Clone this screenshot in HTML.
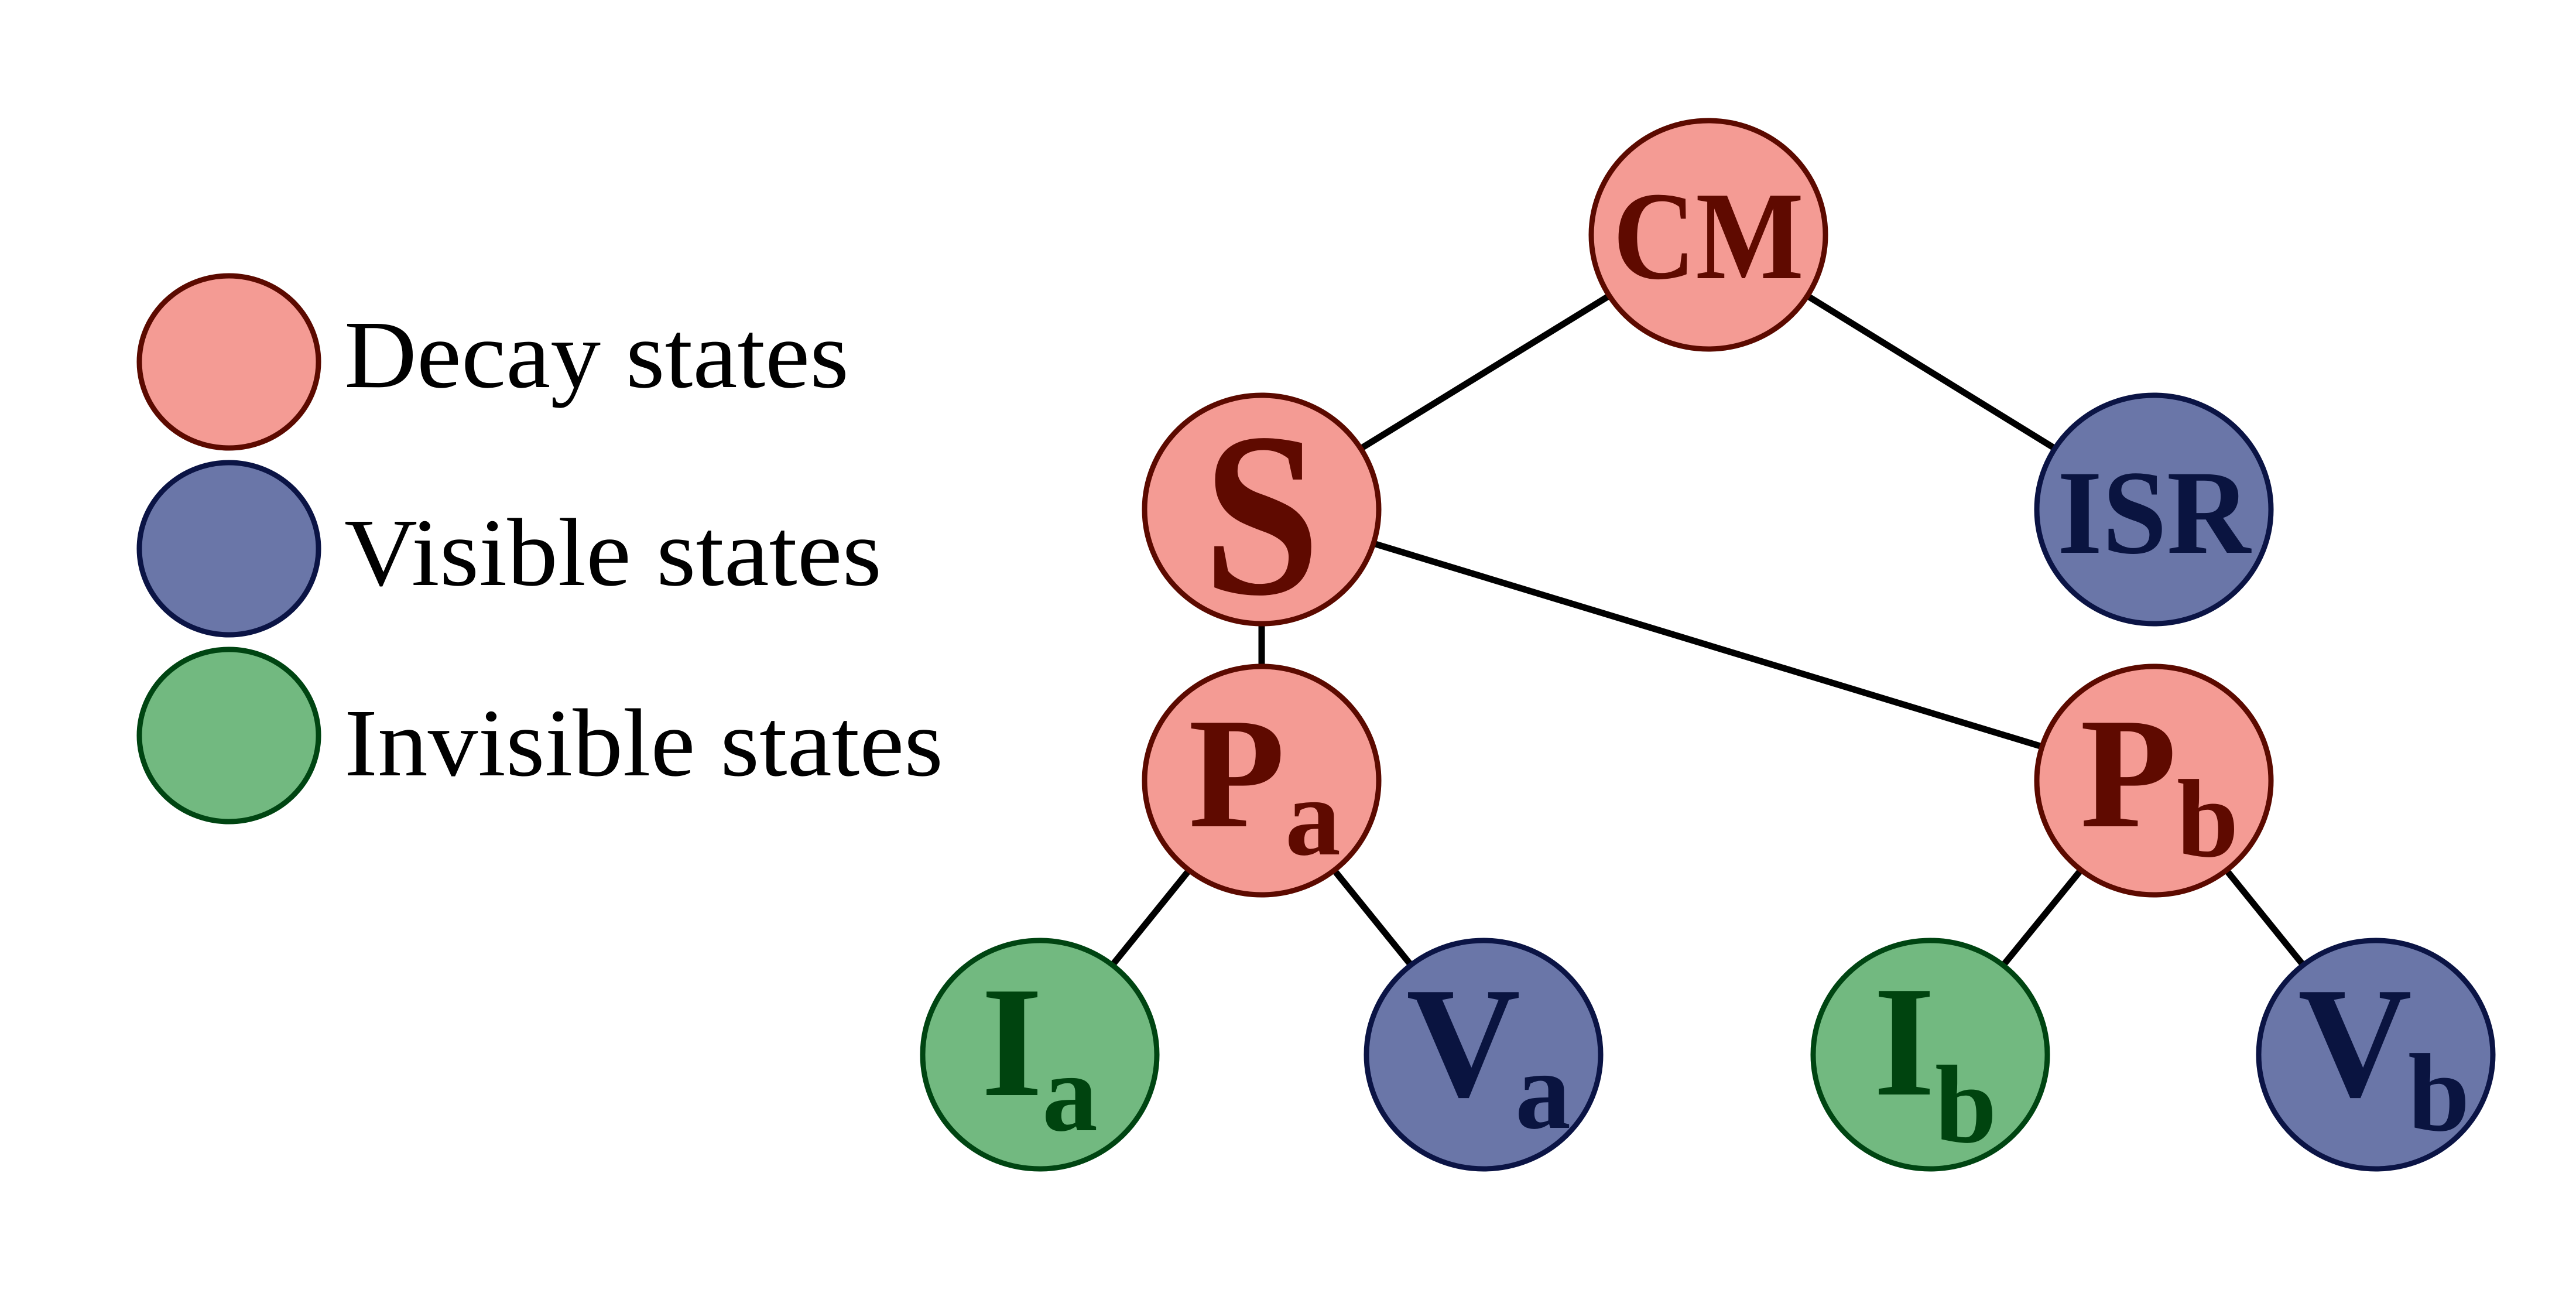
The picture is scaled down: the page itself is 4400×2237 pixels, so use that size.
<!DOCTYPE html>
<html><head><meta charset="utf-8"><style>html,body{margin:0;padding:0;background:#fff}svg{display:block}</style></head>
<body>
<svg width="4400" height="2237" viewBox="0 0 4400 2237" xmlns="http://www.w3.org/2000/svg">
<g stroke="#000" stroke-width="11">
<line x1="2918" y1="401" x2="2155" y2="870"/>
<line x1="2918" y1="401" x2="3679" y2="870"/>
<line x1="2155" y1="870" x2="2155" y2="1333"/>
<line x1="2155" y1="870" x2="3679" y2="1333"/>
<line x1="2155" y1="1333" x2="1776" y2="1801"/>
<line x1="2155" y1="1333" x2="2534" y2="1801"/>
<line x1="3679" y1="1333" x2="3297" y2="1801"/>
<line x1="3679" y1="1333" x2="4058" y2="1801"/>
</g>
<g stroke-width="9">
<ellipse cx="2918" cy="401" rx="200" ry="195" fill="#f49b94" stroke="#5c0a00"/>
<ellipse cx="2155" cy="870" rx="200" ry="195" fill="#f49b94" stroke="#5c0a00"/>
<ellipse cx="3679" cy="870" rx="200" ry="195" fill="#6a76a8" stroke="#0b1445"/>
<ellipse cx="2155" cy="1333" rx="200" ry="195" fill="#f49b94" stroke="#5c0a00"/>
<ellipse cx="3679" cy="1333" rx="200" ry="195" fill="#f49b94" stroke="#5c0a00"/>
<ellipse cx="1776" cy="1801" rx="200" ry="195" fill="#72b980" stroke="#004512"/>
<ellipse cx="2534" cy="1801" rx="200" ry="195" fill="#6a76a8" stroke="#0b1445"/>
<ellipse cx="3297" cy="1801" rx="200" ry="195" fill="#72b980" stroke="#004512"/>
<ellipse cx="4058" cy="1801" rx="200" ry="195" fill="#6a76a8" stroke="#0b1445"/>
<ellipse cx="391" cy="618" rx="153" ry="147" fill="#f49b94" stroke="#5c0a00"/>
<ellipse cx="391" cy="937" rx="153" ry="147" fill="#6a76a8" stroke="#0b1445"/>
<ellipse cx="391" cy="1256" rx="153" ry="147" fill="#72b980" stroke="#004512"/>
</g>
<g font-family="Liberation Serif, serif" font-weight="bold">
<text x="2918" y="475" font-size="215" fill="#5f0a00" text-anchor="middle" textLength="326" lengthAdjust="spacingAndGlyphs">CM</text>
<text x="2155" y="1013" font-size="400" fill="#5f0a00" text-anchor="middle" textLength="200" lengthAdjust="spacingAndGlyphs">S</text>
<text x="3679" y="944" font-size="205" fill="#0a1440" text-anchor="middle" textLength="330" lengthAdjust="spacingAndGlyphs">ISR</text>
<text x="2030" y="1411" font-size="270" fill="#5f0a00">P</text>
<text x="2195" y="1459" font-size="190" fill="#5f0a00">a</text>
<text x="3553" y="1411" font-size="270" fill="#5f0a00">P</text>
<text x="3718" y="1462" font-size="190" fill="#5f0a00">b</text>
<text x="1676" y="1870" font-size="270" fill="#00440f">I</text>
<text x="1780" y="1930" font-size="190" fill="#00440f">a</text>
<text x="2402" y="1871" font-size="270" fill="#0a1440">V</text>
<text x="2588" y="1926" font-size="190" fill="#0a1440">a</text>
<text x="3200" y="1869" font-size="270" fill="#00440f">I</text>
<text x="3305" y="1950" font-size="190" fill="#00440f">b</text>
<text x="3925" y="1871" font-size="270" fill="#0a1440">V</text>
<text x="4113" y="1930" font-size="190" fill="#0a1440">b</text>
</g>
<g font-family="Liberation Serif, serif" font-size="165" fill="#000">
<text x="588" y="661" textLength="862" lengthAdjust="spacingAndGlyphs">Decay states</text>
<text x="588" y="999" textLength="918" lengthAdjust="spacingAndGlyphs">Visible states</text>
<text x="588" y="1324" textLength="1023" lengthAdjust="spacingAndGlyphs">Invisible states</text>
</g>
</svg>
</body></html>
